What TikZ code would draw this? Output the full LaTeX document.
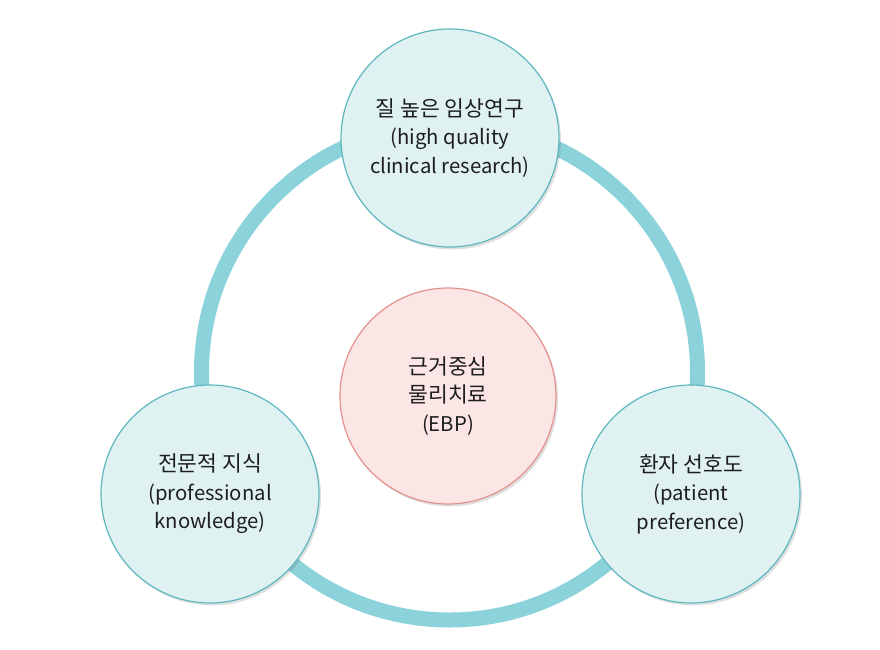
\documentclass[tikz,border=0pt]{standalone}
\usepackage{fontspec}
\setmainfont{Noto Sans CJK KR}
\newfontfamily\kofont{Noto Sans CJK KR}[Scale=1.06]
\usetikzlibrary{shadows}
\definecolor{ringc}{HTML}{8CD2DB}
\definecolor{tealfill}{HTML}{E0F1F2}
\definecolor{tealline}{HTML}{5DB7BF}
\definecolor{pinkfill}{HTML}{FCE5E5}
\definecolor{pinkline}{HTML}{E3918E}
\definecolor{txt}{HTML}{1E1E1E}
\tikzset{
  bubble/.style={circle, minimum size=218bp, inner sep=0pt, fill=tealfill, draw=tealline, line width=1.2bp,
    align=center, text=txt, font=\fontsize{20.3bp}{28.5bp}\selectfont,
    drop shadow={shadow xshift=2bp, shadow yshift=-2.5bp, opacity=0.25, fill=gray}},
  core/.style={bubble, minimum size=216bp, fill=pinkfill, draw=pinkline},
  ring/.style={draw=ringc, line width=15bp}
}
\begin{document}
\begin{tikzpicture}[x=1bp, y=-1bp]
\useasboundingbox (0,0) rectangle (880,650);
\coordinate (ctr) at (449.5,372);
\draw[ring] (ctr) circle[radius=248bp];
\node[bubble] (top) at (450,138) {{\kofont 질 높은 임상연구}\\(high quality\\clinical research)};
\node[bubble] (left) at (210,494) {{\kofont 전문적 지식}\\(professional\\knowledge)};
\node[bubble] (right) at (691,494) {{\kofont 환자 선호도}\\(patient\\preference)};
\node[core] (mid) at (448,396) {{\kofont 근거중심}\\{\kofont 물리치료}\\(EBP)};
\end{tikzpicture}
\end{document}
